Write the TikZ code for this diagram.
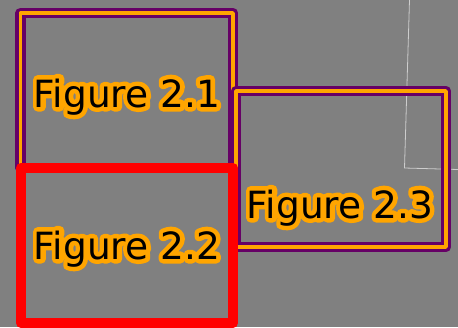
\documentclass[tikz,border=0pt]{standalone}
\usepackage{fontspec}
\setmainfont{DejaVu Sans}
\definecolor{bg}{HTML}{808080}
\definecolor{plum}{HTML}{660066}
\definecolor{amber}{HTML}{FFA500}
\definecolor{guide}{HTML}{CDCDCD}
% orange halo: stroked copy under the black text
\newcommand\halo[1]{\leavevmode\rlap{\special{pdf:literal direct q 2 Tr 9 w 1 j}{\color{amber}#1}\special{pdf:literal direct Q}}#1}
\begin{document}
\begin{tikzpicture}[x=1pt,y=-1pt,
  figbox/.style={draw=plum,double=amber,line width=3.6pt,double distance=3.4pt,line join=round,inner sep=0pt},
  selbox/.style={draw=red,line width=10pt,line join=round,inner sep=0pt},
  figlabel/.style={font=\fontsize{37.5}{40}\selectfont,inner sep=0pt,anchor=base}]
\fill[bg] (0,0) rectangle (458,327);\clip (0,0) rectangle (458,327);
\coordinate (gtop) at (409.5,0);\coordinate (gcorner) at (404.5,168);\coordinate (gend) at (458,169.5);
\draw[guide,line width=.8pt] (gtop)--(gcorner)--(gend);
\node[figbox,minimum width=212.5pt,minimum height=155pt] (f21) at (126.75,90.5) {};
\node[figbox,minimum width=210pt,minimum height=156pt] (f23) at (341,169) {};
\node[selbox,minimum width=212pt,minimum height=155pt] (f22) at (127,245.5) {};
\node[figlabel] (t21) at (127,107) {\halo{Figure 2.1}};
\node[figlabel] (t22) at (127,259) {\halo{Figure 2.2}};
\node[figlabel] (t23) at (340,218) {\halo{Figure 2.3}};
\end{tikzpicture}
\end{document}
